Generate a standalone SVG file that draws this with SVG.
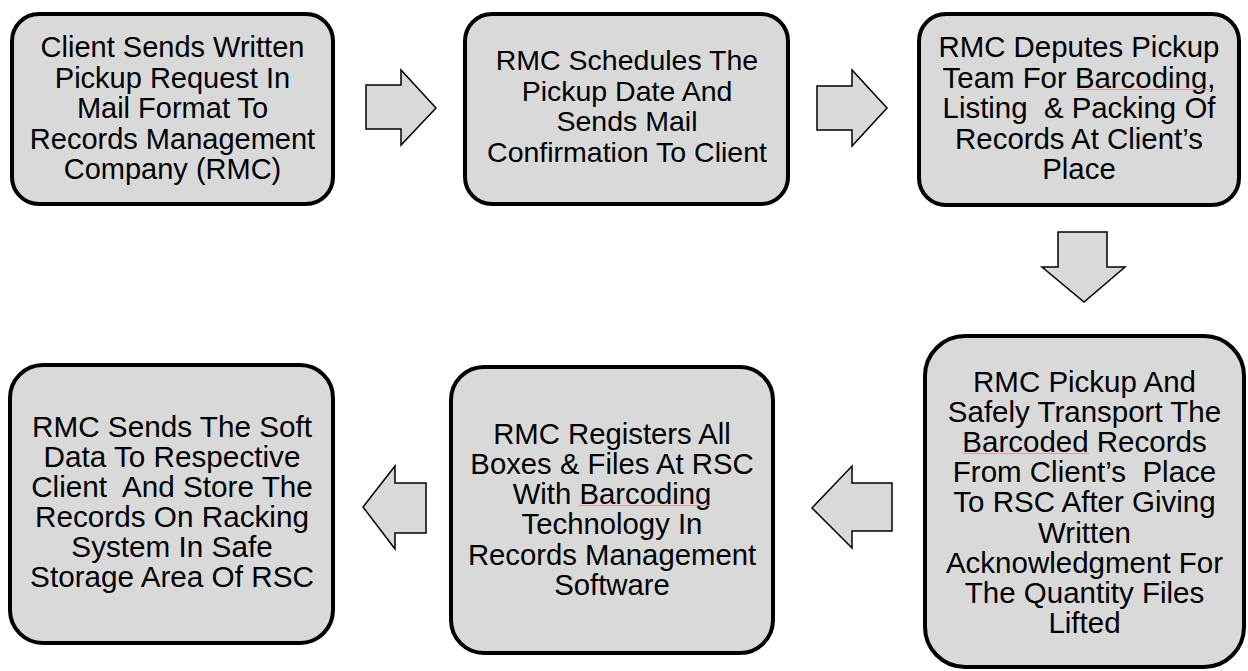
<svg xmlns="http://www.w3.org/2000/svg" width="1248" height="671" viewBox="0 0 1248 671">
<style>
.box{fill:#d9d9d9;stroke:#000;stroke-width:4}
.arr{fill:#d9d9d9;stroke:#000;stroke-width:1.5;stroke-linejoin:miter}
.t{font-family:"Liberation Sans",Arial,sans-serif;font-size:29px;fill:#000;text-anchor:middle}
.sp{stroke:#e59a9a;stroke-width:1}
</style>
<rect width="1248" height="671" fill="#fff"/>
<g id="node1">
<rect class="box" x="12" y="14" width="321" height="190" rx="27"/>
<text class="t" style="font-size:29px" xml:space="preserve"><tspan x="172.5" y="57">Client Sends Written</tspan><tspan x="172.5" y="87.5">Pickup Request In</tspan><tspan x="172.5" y="118">Mail Format To</tspan><tspan x="172.5" y="148.5">Records Management</tspan><tspan x="172.5" y="179">Company (RMC)</tspan></text>
</g>
<g id="node2">
<rect class="box" x="465" y="14" width="323" height="190" rx="27"/>
<text class="t" style="font-size:28.5px" xml:space="preserve"><tspan x="627" y="70">RMC Schedules The</tspan><tspan x="627" y="100.5">Pickup Date And</tspan><tspan x="627" y="131">Sends Mail</tspan><tspan x="627" y="161.5">Confirmation To Client</tspan></text>
</g>
<g id="node3">
<rect class="box" x="919" y="14" width="320" height="191" rx="27"/>
<text class="t" style="font-size:29.4px" xml:space="preserve"><tspan x="1079" y="57">RMC Deputes Pickup</tspan><tspan x="1079" y="87.5">Team For Barcoding,</tspan><tspan x="1079" y="118">Listing  &amp; Packing Of</tspan><tspan x="1079" y="148.5">Records At Client’s</tspan><tspan x="1079" y="179">Place</tspan></text>
<line class="sp" x1="1077" y1="89.5" x2="1209" y2="89.5"/>
</g>
<g id="node4">
<rect class="box" x="925" y="336" width="319" height="331" rx="40"/>
<text class="t" style="font-size:29.5px" xml:space="preserve"><tspan x="1084.5" y="392">RMC Pickup And</tspan><tspan x="1084.5" y="422.1">Safely Transport The</tspan><tspan x="1084.5" y="452.2">Barcoded Records</tspan><tspan x="1084.5" y="482.3">From Client’s  Place</tspan><tspan x="1084.5" y="512.4">To RSC After Giving</tspan><tspan x="1084.5" y="542.5">Written</tspan><tspan x="1084.5" y="572.6">Acknowledgment For</tspan><tspan x="1084.5" y="602.7">The Quantity Files</tspan><tspan x="1084.5" y="632.8">Lifted</tspan></text>
<line class="sp" x1="963" y1="453.5" x2="1089" y2="453.5"/>
</g>
<g id="node5">
<rect class="box" x="451" y="367" width="322" height="286" rx="33"/>
<text class="t" style="font-size:29.3px" xml:space="preserve"><tspan x="612" y="443.5">RMC Registers All</tspan><tspan x="612" y="473.8">Boxes &amp; Files At RSC</tspan><tspan x="612" y="504.1">With Barcoding</tspan><tspan x="612" y="534.4">Technology In</tspan><tspan x="612" y="564.7">Records Management</tspan><tspan x="612" y="595">Software</tspan></text>
<line class="sp" x1="579" y1="505.5" x2="711" y2="505.5"/>
</g>
<g id="node6">
<rect class="box" x="10" y="365" width="323" height="278" rx="33"/>
<text class="t" style="font-size:29.7px" xml:space="preserve"><tspan x="172" y="437">RMC Sends The Soft</tspan><tspan x="172" y="467">Data To Respective</tspan><tspan x="172" y="497">Client  And Store The</tspan><tspan x="172" y="527">Records On Racking</tspan><tspan x="172" y="557">System In Safe</tspan><tspan x="172" y="587">Storage Area Of RSC</tspan></text>
</g>
<g id="connectors">
<polygon class="arr" points="366,85 401,85 401,70 436,108 401,145 401,129 366,129"/>
<polygon class="arr" points="817,86 852,86 852,70 887,108 852,146 852,130 817,130"/>
<polygon class="arr" points="1058,232 1107,232 1107,267 1125,267 1084,302 1042,267 1058,267"/>
<polygon class="arr" points="892,483 852,483 852,466 812,508 852,548 852,531 892,531"/>
<polygon class="arr" points="426,483 395,483 395,466 363,507 395,549 395,533 426,533"/>
</g>
</svg>
